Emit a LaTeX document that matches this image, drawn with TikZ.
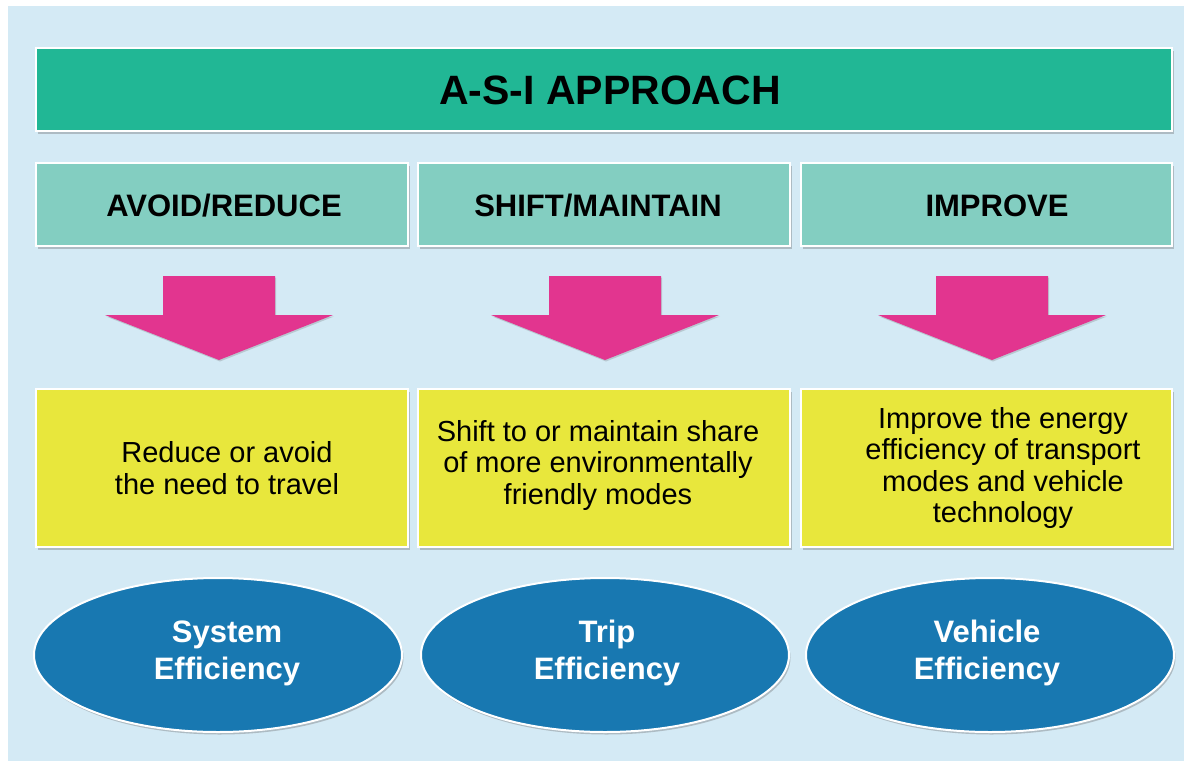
\documentclass[tikz,border=0pt]{standalone}
\usepackage{fontspec}
\setmainfont{Liberation Sans}
\usetikzlibrary{shadows,shapes.geometric}
\definecolor{bgblue}{HTML}{D4EAF5}
\definecolor{titlegreen}{HTML}{21B795}
\definecolor{headgreen}{HTML}{83CEC1}
\definecolor{arrowpink}{HTML}{E2358F}
\definecolor{boxyellow}{HTML}{E8E73C}
\definecolor{ellblue}{HTML}{1878B1}
\tikzset{
  boxshadow/.style={drop shadow={shadow xshift=1.5pt,shadow yshift=-2.5pt,opacity=0.35,fill=black!60}},
  titlebox/.style={fill=titlegreen,draw=white,line width=2.5pt,boxshadow},
  headbox/.style={fill=headgreen,draw=white,line width=2.5pt,boxshadow},
  bodybox/.style={fill=boxyellow,draw=white,line width=2.5pt,boxshadow},
  effell/.style={ellipse,fill=ellblue,draw=white,line width=2pt,boxshadow,
     minimum width=368pt,minimum height=154pt,inner sep=0pt},
  blockarrow/.style={fill=arrowpink,drop shadow={shadow xshift=1pt,shadow yshift=-1.5pt,opacity=0.25,fill=black!60}},
  titletext/.style={font=\bfseries\fontsize{41}{46}\selectfont,text=black},
  headtext/.style={font=\bfseries\fontsize{31}{36}\selectfont,text=black},
  bodytext/.style={font=\fontsize{29}{31.5}\selectfont,text=black,align=center,inner sep=0pt},
  elltext/.style={font=\bfseries\fontsize{31}{37}\selectfont,text=white,align=center},
}
\begin{document}
\begin{tikzpicture}[x=1pt,y=-1pt]
\useasboundingbox (0,0) rectangle (1184,761);
\fill[white] (0,0) rectangle (1184,761);
\fill[bgblue] (8,6) rectangle (1184,761);

% title
\path[titlebox] (36,48) rectangle (1172,131);
\node[titletext] (title) at (610,90) {A-S-I APPROACH};

% headers
\path[headbox] (36,163) rectangle (408,246);
\path[headbox] (418,163) rectangle (790,246);
\path[headbox] (801,163) rectangle (1172,246);
\node[headtext] (h1) at (224,206) {AVOID/REDUCE};
\node[headtext] (h2) at (598,206) {SHIFT/MAINTAIN};
\node[headtext] (h3) at (997,206) {IMPROVE};

% arrows
\foreach \c/\n in {219/a1,605/a2,992/a3}{
  \path[blockarrow] (\c-56,276) -- (\c+56,276) -- (\c+56,315) -- (\c+114,315)
     -- (\c,360) -- (\c-114,315) -- (\c-56,315) -- cycle;
}

% body boxes
\path[bodybox] (36,389) rectangle (408,547);
\path[bodybox] (418,389) rectangle (790,547);
\path[bodybox] (801,389) rectangle (1172,547);
\node[bodytext] (b1) at (227,468) {Reduce or avoid\\the need to travel};
\node[bodytext] (b2) at (598,465) {Shift to or maintain share\\of more environmentally\\friendly modes};
\node[bodytext] (b3) at (1003,468) {Improve the energy\\efficiency of transport\\modes and vehicle\\technology};

% ellipses
\node[effell] (e1) at (218,655) {};
\node[effell] (e2) at (605,655) {};
\node[effell] (e3) at (990,655) {};
\node[elltext] (t1) at (227,653) {System\\Efficiency};
\node[elltext] (t2) at (607,653) {Trip\\Efficiency};
\node[elltext] (t3) at (987,653) {Vehicle\\Efficiency};
\end{tikzpicture}
\end{document}
